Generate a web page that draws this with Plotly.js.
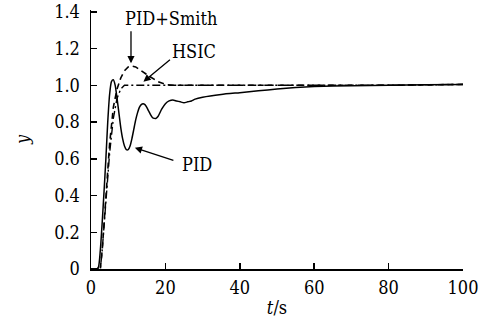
<!DOCTYPE html>
<html><head><meta charset="utf-8">
<script src="https://cdn.plot.ly/plotly-3.0.1.min.js"></script>
<style>html,body{margin:0;padding:0;background:#fff;}#chart{width:490px;height:328px;}</style>
</head><body><div id="chart"></div>
<script>
const tPID = [0,1.5,2,2.5,3,3.5,4,4.5,5,5.5,6,6.5,7,7.5,8,8.5,9,9.5,10,10.5,11,11.5,12,12.5,13,13.5,14,14.5,15,15.5,16,16.5,17,17.5,18,19,20,21,22,23,24,25,26,27,28,30,35,40,45,50,55,60,70,80,90,100];
const yPID = [0,0,0.01,0.1,0.25,0.42,0.6,0.8,0.95,1.02,1.03,1.0,0.93,0.85,0.77,0.71,0.67,0.65,0.65,0.67,0.71,0.76,0.81,0.85,0.88,0.895,0.9,0.895,0.88,0.86,0.84,0.825,0.82,0.82,0.83,0.87,0.9,0.915,0.92,0.915,0.91,0.905,0.91,0.915,0.925,0.935,0.95,0.96,0.97,0.98,0.988,0.993,0.998,1.0,1.003,1.005];
const tSmith = [0,2.5,3,4,5,6,7,8,9,10,11,12,13,14,16,18,20,22,25,40,60,80,100];
const ySmith = [0,0,0.1,0.4,0.68,0.88,0.98,1.04,1.08,1.1,1.105,1.1,1.085,1.07,1.045,1.02,1.005,1.0,1.0,1.0,1.0,1.0,1.005];
const tHSIC = [0,2.5,3,4,5,6,7,8,9,10,20,40,60,80,100];
const yHSIC = [0,0,0.1,0.38,0.63,0.82,0.93,0.98,1.0,1.0,1.0,1.0,1.0,1.0,1.005];
const xTicks = [0,20,40,60,80,100];
const xTickText = ['0','20','40','60','80','100'];
const yTicks = [0,0.2,0.4,0.6,0.8,1.0,1.2,1.4];
const yTickText = ['0','0.2','0.4','0.6','0.8','1.0','1.2','1.4'];
const labels = ['PID+Smith','HSIC','PID'];

const serif = '"DejaVu Serif Condensed", "DejaVu Serif", serif';
const fs = 18;
const traces = [
  {x:tSmith,y:ySmith,mode:'lines',line:{color:'#000',width:1.6,dash:'6px,4px'},name:labels[0]},
  {x:tHSIC,y:yHSIC,mode:'lines',line:{color:'#000',width:1.4,dash:'8px,3px,2px,3px'},name:labels[1]},
  {x:tPID,y:yPID,mode:'lines',line:{color:'#000',width:1.5,shape:'spline',smoothing:0.6},name:labels[2]}
];
const arrow = {showarrow:true,arrowhead:2,arrowsize:1.1,arrowwidth:1.3,arrowcolor:'#000',text:' ',standoff:0,font:{size:1}};
const layout = {
  width:490,height:328,
  margin:{l:91,r:27,t:10,b:59},
  paper_bgcolor:'#fff',plot_bgcolor:'#fff',
  showlegend:false,
  font:{family:serif,size:fs,color:'#000'},
  xaxis:{range:[0,100],tickvals:xTicks,ticktext:xTickText,ticks:'inside',ticklen:6,tickwidth:1.5,tickcolor:'#000',
    showline:true,linewidth:1.5,linecolor:'#000',showgrid:false,zeroline:false,ticklabelstandoff:2,
    tickfont:{family:serif,size:fs},
    title:{text:'<i>t</i>/s',font:{family:serif,size:fs},standoff:4}},
  yaxis:{range:[0,1.41],tickvals:yTicks,ticktext:yTickText,ticks:'inside',ticklen:6,tickwidth:1.5,tickcolor:'#000',
    showline:true,linewidth:1.5,linecolor:'#000',showgrid:false,zeroline:false,ticklabelstandoff:6,
    tickfont:{family:serif,size:fs},
    title:{text:'<i>y</i>',font:{family:serif,size:fs},standoff:20}},
  annotations:[
    Object.assign({x:10.75,y:1.12,ax:0,ay:-34},arrow),
    Object.assign({x:14.1,y:1.02,ax:28,ay:-23},arrow),
    Object.assign({x:11.8,y:0.66,ax:40,ay:13},arrow),
    {x:21.5,y:1.362,text:labels[0],showarrow:false,font:{family:serif,size:fs}},
    {x:27.8,y:1.184,text:labels[1],showarrow:false,font:{family:serif,size:fs}},
    {x:28.4,y:0.571,text:labels[2],showarrow:false,font:{family:serif,size:fs}}
  ]
};
Plotly.newPlot('chart',traces,layout,{displayModeBar:false,staticPlot:true});
</script></body></html>
